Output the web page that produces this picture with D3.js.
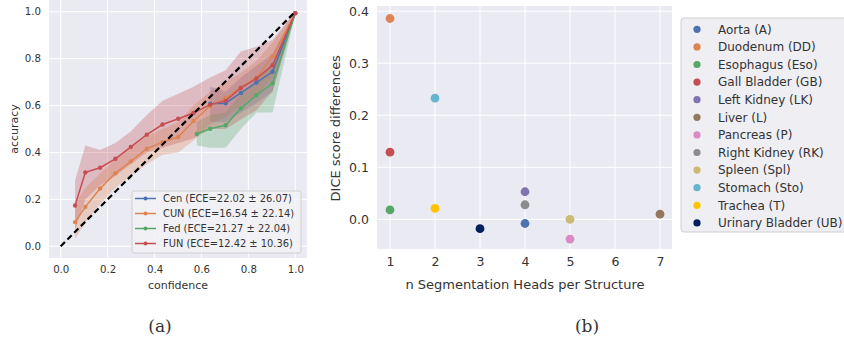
<!DOCTYPE html>
<html>
<head>
<meta charset="utf-8">
<script src="https://cdn.jsdelivr.net/npm/d3@7"></script>
<style>
  body { margin: 0; background: #fff; }
  svg text { font-family: "DejaVu Sans", sans-serif; fill: #333; }
  .domain { display: none; }
</style>
</head>
<body>
<svg id="chart" width="844" height="342"></svg>
<script>
// ---- (a) reliability diagram ----
var binX = [0.061, 0.105, 0.168, 0.233, 0.299, 0.367, 0.434, 0.501, 0.566, 0.637, 0.703, 0.768, 0.834, 0.903, 1.0];
var funAcc = [0.174, 0.315, 0.335, 0.373, 0.424, 0.476, 0.519, 0.544, 0.568, 0.604, 0.620, 0.675, 0.715, 0.772, 0.994];
var funLo = [0.07, 0.20, 0.26, 0.30, 0.35, 0.40, 0.42, 0.44, 0.46, 0.50, 0.50, 0.54, 0.58, 0.66, 0.99];
var funHi = [0.28, 0.43, 0.41, 0.44, 0.49, 0.56, 0.62, 0.65, 0.68, 0.72, 0.75, 0.83, 0.85, 0.88, 1.0];
var cunAcc = [0.103, 0.168, 0.246, 0.311, 0.362, 0.416, 0.444, 0.466, 0.534, 0.598, 0.632, 0.677, 0.718, 0.809, 0.994];
var cunLo = [0.03, 0.10, 0.18, 0.25, 0.30, 0.35, 0.39, 0.40, 0.45, 0.52, 0.55, 0.60, 0.64, 0.72, 0.99];
var cunHi = [0.18, 0.25, 0.31, 0.37, 0.42, 0.47, 0.50, 0.53, 0.60, 0.66, 0.70, 0.74, 0.79, 0.87, 1.0];
var cenX = [0.637, 0.703, 0.768, 0.834, 0.903, 1.0];
var cenAcc = [0.608, 0.610, 0.654, 0.698, 0.744, 0.994];
var cenLo = [0.53, 0.53, 0.57, 0.61, 0.66, 0.99];
var cenHi = [0.68, 0.66, 0.72, 0.77, 0.82, 1.0];
var fedX = [0.58, 0.637, 0.703, 0.768, 0.834, 0.903, 1.0];
var fedAcc = [0.479, 0.501, 0.516, 0.588, 0.644, 0.695, 0.994];
var fedLo = [0.43, 0.42, 0.42, 0.50, 0.57, 0.57, 0.99];
var fedHi = [0.53, 0.56, 0.57, 0.65, 0.71, 0.78, 1.0];
var calibNames = ["Cen (ECE=22.02 \u00b1 26.07)", "CUN (ECE=16.54 \u00b1 22.14)",
                  "Fed (ECE=21.27 \u00b1 22.04)", "FUN (ECE=12.42 \u00b1 10.36)"];
var calibTicks = [0, 0.2, 0.4, 0.6, 0.8, 1.0];

// ---- (b) scatter ----
var structures = ["Aorta (A)", "Duodenum (DD)", "Esophagus (Eso)", "Gall Bladder (GB)", "Left Kidney (LK)",
                  "Liver (L)", "Pancreas (P)", "Right Kidney (RK)", "Spleen (Spl)", "Stomach (Sto)",
                  "Trachea (T)", "Urinary Bladder (UB)"];
var nHeads = [4, 1, 1, 1, 4, 7, 5, 4, 5, 2, 2, 3];
var diceDiff = [-0.008, 0.386, 0.018, 0.129, 0.053, 0.010, -0.038, 0.028, 0.0, 0.233, 0.021, -0.018];
var headTicks = [1, 2, 3, 4, 5, 6, 7];
var diffTicks = [0.0, 0.1, 0.2, 0.3, 0.4];

var deep = ["#4C72B0", "#DD8452", "#55A868", "#C44E52"];
var structColors = ["#4C72B0", "#DD8452", "#55A868", "#C44E52", "#8172B3", "#937860",
                    "#DA8BC3", "#8C8C8C", "#CCB974", "#64B5CD", "#FFC400", "#001F5C"];

var svg = d3.select("#chart");
var bg = "#EAEAF2";

/**
 * 画网格和坐标
 */
var drawFrame = function (g, x, y, xt, yt, fs, xfmt, yfmt) {
    var w = x.range()[1] - x.range()[0], h = y.range()[0] - y.range()[1];
    g.append("rect").attr("x", x.range()[0]).attr("y", y.range()[1])
        .attr("width", w).attr("height", h).attr("fill", bg);
    g.selectAll(".gx").data(xt).enter().append("line")
        .attr("x1", x).attr("x2", x).attr("y1", y.range()[1]).attr("y2", y.range()[0])
        .attr("stroke", "#fff").attr("stroke-width", 1);
    g.selectAll(".gy").data(yt).enter().append("line")
        .attr("y1", y).attr("y2", y).attr("x1", x.range()[0]).attr("x2", x.range()[1])
        .attr("stroke", "#fff").attr("stroke-width", 1);
    var ax = g.append("g").attr("transform", "translate(0," + y.range()[0] + ")")
        .call(d3.axisBottom(x).tickValues(xt).tickSize(0).tickPadding(8).tickFormat(xfmt));
    var ay = g.append("g").attr("transform", "translate(" + x.range()[0] + ",0)")
        .call(d3.axisLeft(y).tickValues(yt).tickSize(0).tickPadding(8).tickFormat(yfmt));
    [ax, ay].forEach(function (a) {
        a.selectAll("text").style("font-size", fs + "px").style("font-family", "DejaVu Sans").attr("fill", "#333");
    });
};

// ===== (a) =====
var xa = d3.scaleLinear().domain([-0.05, 1.05]).range([49, 307]);
var ya = d3.scaleLinear().domain([-0.05, 1.05]).range([258, 0]);
var ga = svg.append("g");
drawFrame(ga, xa, ya, calibTicks, calibTicks, 10.2, d3.format(".1f"), d3.format(".1f"));

var series = [
    {x: cenX, acc: cenAcc, lo: cenLo, hi: cenHi, c: deep[0]},
    {x: binX, acc: cunAcc, lo: cunLo, hi: cunHi, c: deep[1]},
    {x: fedX, acc: fedAcc, lo: fedLo, hi: fedHi, c: deep[2]},
    {x: binX, acc: funAcc, lo: funLo, hi: funHi, c: deep[3]}
];
series.forEach(function (s) {
    var area = d3.area().x(function (d, i) { return xa(s.x[i]); })
        .y0(function (d, i) { return ya(s.lo[i]); })
        .y1(function (d, i) { return ya(s.hi[i]); });
    ga.append("path").attr("d", area(s.acc)).attr("fill", s.c).attr("fill-opacity", 0.3);
});
series.forEach(function (s) {
    var line = d3.line().x(function (d, i) { return xa(s.x[i]); }).y(function (d) { return ya(d); });
    ga.append("path").attr("d", line(s.acc)).attr("fill", "none")
        .attr("stroke", s.c).attr("stroke-width", 1.5);
    ga.selectAll(null).data(s.acc).enter().append("circle")
        .attr("cx", function (d, i) { return xa(s.x[i]); })
        .attr("cy", function (d) { return ya(d); })
        .attr("r", 2.2).attr("fill", s.c);
});
// 对角线
ga.append("line").attr("x1", xa(0)).attr("y1", ya(0)).attr("x2", xa(1)).attr("y2", ya(1))
    .attr("stroke", "#000").attr("stroke-width", 2.2).attr("stroke-dasharray", "6 3.5");

// 图例
var la = ga.append("g").attr("transform", "translate(132,191)");
la.append("rect").attr("width", 169).attr("height", 62).attr("rx", 2)
    .attr("fill", "#F2F2F6").attr("fill-opacity", 0.85).attr("stroke", "#D0D0D0");
calibNames.forEach(function (n, i) {
    var yy = 7.5 + i * 15;
    la.append("line").attr("x1", 3).attr("x2", 24).attr("y1", yy).attr("y2", yy)
        .attr("stroke", deep[i]).attr("stroke-width", 1.5);
    la.append("circle").attr("cx", 13.5).attr("cy", yy).attr("r", 2).attr("fill", deep[i]);
    la.append("text").attr("x", 31).attr("y", yy).attr("dy", "0.35em")
        .style("font-size", "9.9px").text(n);
});
ga.append("text").attr("x", xa(0.5)).attr("y", 289).attr("text-anchor", "middle")
    .style("font-size", "11px").text("confidence");
ga.append("text").attr("transform", "translate(18," + ya(0.5) + ") rotate(-90)")
    .attr("text-anchor", "middle").style("font-size", "11px").text("accuracy");
ga.append("text").attr("x", 160).attr("y", 332).attr("text-anchor", "middle")
    .style("font-family", "DejaVu Serif").style("font-size", "17px").attr("fill", "#111").text("(a)");

// ===== (b) =====
var xb = d3.scaleLinear().domain([1 - 13 / 45, 7 + 12 / 45]).range([377, 672]);
var yb = d3.scaleLinear().domain([-0.057, 0.41]).range([249, 6]);
var gb = svg.append("g");
drawFrame(gb, xb, yb, headTicks, diffTicks, 12.5, d3.format("d"), d3.format(".1f"));
gb.selectAll(".dot").data(diceDiff).enter().append("circle")
    .attr("cx", function (d, i) { return xb(nHeads[i]); })
    .attr("cy", function (d) { return yb(d); })
    .attr("r", 4.4)
    .attr("fill", function (d, i) { return structColors[i]; });
gb.append("text").attr("x", 525).attr("y", 289).attr("text-anchor", "middle")
    .style("font-size", "13px").text("n Segmentation Heads per Structure");
gb.append("text").attr("transform", "translate(340," + yb(0.175) + ") rotate(-90)")
    .attr("text-anchor", "middle").style("font-size", "13px").text("DICE score differences");

var lb = gb.append("g").attr("transform", "translate(681,18)");
lb.append("rect").attr("width", 170).attr("height", 214).attr("rx", 3)
    .attr("fill", "#EEEEF3").attr("stroke", "#D0D0D0");
structures.forEach(function (n, i) {
    var yy = 11.3 + i * 17.6;
    lb.append("circle").attr("cx", 16).attr("cy", yy).attr("r", 3.6).attr("fill", structColors[i]);
    lb.append("text").attr("x", 37).attr("y", yy).attr("dy", "0.35em")
        .style("font-size", "12px").text(n);
});
gb.append("text").attr("x", 587).attr("y", 332).attr("text-anchor", "middle")
    .style("font-family", "DejaVu Serif").style("font-size", "17px").attr("fill", "#111").text("(b)");
</script>
</body>
</html>
